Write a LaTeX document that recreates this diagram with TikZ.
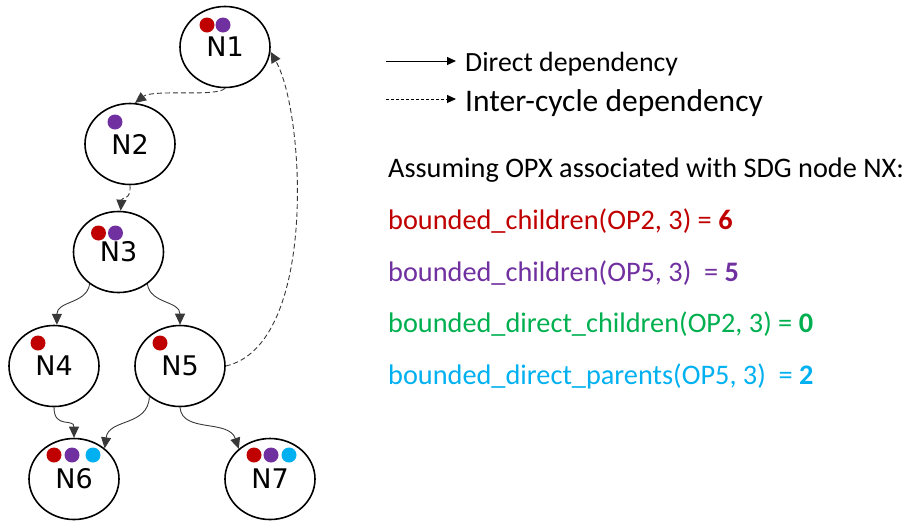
\documentclass[tikz,border=0pt]{standalone}
\usepackage{fontspec}
\setmainfont{Carlito}
\newfontfamily\nodefont{DejaVu Sans}
\usetikzlibrary{shapes.geometric,arrows.meta,calc}
\definecolor{cRed}{HTML}{C00000}
\definecolor{cPurple}{HTML}{7030A0}
\definecolor{cGreen}{HTML}{00B050}
\definecolor{cCyan}{HTML}{00B0F0}
\definecolor{edgegray}{HTML}{383838}
\begin{document}
\begin{tikzpicture}[x=1pt,y=-1pt,
  sdg/.style={ellipse,draw=black,line width=1.6pt,minimum width=90pt,minimum height=81pt,inner sep=0pt,
    font=\nodefont\fontsize{27}{32}\selectfont},
  dep/.style={draw=edgegray,line width=0.9pt,-{Triangle[length=11pt,width=10pt]}},
  idep/.style={dep,dash pattern=on 5pt off 3pt},
  legarrow/.style={draw=black,line width=1pt,-{Triangle[length=9pt,width=8pt]}},
  legdash/.style={legarrow,dash pattern=on 3pt off 2pt},
  dot/.style={circle,inner sep=0pt,minimum size=15pt},
  txt/.style={anchor=base west,inner sep=0pt,font=\fontsize{28.3}{34}\selectfont}
]
\useasboundingbox (0,0) rectangle (914,523);

% nodes
\node[sdg] (N1) at (225,47) {N1};
\node[sdg] (N2) at (130,144) {N2};
\node[sdg] (N3) at (118.5,252) {N3};
\node[sdg] (N4) at (54,366) {N4};
\node[sdg] (N5) at (180,366) {N5};
\node[sdg] (N6) at (74,479) {N6};
\node[sdg] (N7) at (270,479) {N7};

% dots
\node[dot,fill=cRed]    (d1a) at ($(N1)+(-18,-22)$) {};
\node[dot,fill=cPurple] (d1b) at ($(N1)+(-2,-22)$) {};
\node[dot,fill=cPurple] (d2a) at ($(N2)+(-15,-22)$) {};
\node[dot,fill=cRed]    (d3a) at ($(N3)+(-20,-19)$) {};
\node[dot,fill=cPurple] (d3b) at ($(N3)+(-3,-19)$) {};
\node[dot,fill=cRed]    (d4a) at ($(N4)+(-16,-23)$) {};
\node[dot,fill=cRed]    (d5a) at ($(N5)+(-20,-23)$) {};
\node[dot,fill=cRed]    (d6a) at ($(N6)+(-20,-24)$) {};
\node[dot,fill=cPurple] (d6b) at ($(N6)+(-2,-24)$) {};
\node[dot,fill=cCyan]   (d6c) at ($(N6)+(19,-24)$) {};
\node[dot,fill=cRed]    (d7a) at ($(N7)+(-16,-24)$) {};
\node[dot,fill=cPurple] (d7b) at ($(N7)+(1,-24)$) {};
\node[dot,fill=cCyan]   (d7c) at ($(N7)+(19,-24)$) {};

% connectors
\draw[idep] (N1.south) .. controls ($(N1.south)+(-8,9)$) and ($(N2.83)+(18,-14)$) .. (N2.83);
\draw[idep] (N2.south) .. controls ($(N2.south)+(1,16)$) and ($(N3.87)+(1,-14)$) .. (N3.87);
\draw[dep] (N3.228) .. controls ($(N3.228)+(-3,20)$) and ($(N4.86)+(0,-24)$) .. (N4.86);
\draw[dep] (N3.312) .. controls ($(N3.312)+(3,20)$) and ($(N5.90)+(0,-24)$) .. (N5.90);
\draw[dep] (N4.south) .. controls ($(N4.south)+(0,22)$) and ($(N6.north)+(0,-20)$) .. (N6.north);
\draw[dep] (N5.225) .. controls ($(N5.225)+(-1,30)$) and ($(N6.45)+(4,-30)$) .. (N6.45);
\draw[dep] (N5.south) .. controls ($(N5.south)+(2,26)$) and ($(N7.136)+(-10,-30)$) .. (N7.136);
\draw[idep] (N5.east) .. controls (318,345) and (305,112) .. (N1.354);

% legend
\coordinate (l1s) at (386,61);
\coordinate (l1e) at (456,61);
\coordinate (l2s) at (386,99);
\coordinate (l2e) at (456,99);
\draw[legarrow] (l1s) -- (l1e);
\draw[legdash] (l2s) -- (l2e);
\node[txt,font=\fontsize{27.8}{32}\selectfont] (t1) at (465,71) {Direct dependency};
\node[txt,font=\fontsize{31.5}{37}\selectfont] (t2) at (465,111) {Inter-cycle dependency};

\node[txt] (t3) at (388,177) {Assuming OPX associated with SDG node NX:};
\node[txt,text=cRed] (t4) at (388,229) {bounded\_children(OP2, 3) = \textbf{6}};
\node[txt,text=cPurple] (t5) at (388,281) {bounded\_children(OP5, 3)\ \ = \textbf{5}};
\node[txt,text=cGreen] (t6) at (388,332) {bounded\_direct\_children(OP2, 3) = \textbf{0}};
\node[txt,text=cCyan] (t7) at (388,384) {bounded\_direct\_parents(OP5, 3)\ \ = \textbf{2}};
\end{tikzpicture}
\end{document}
